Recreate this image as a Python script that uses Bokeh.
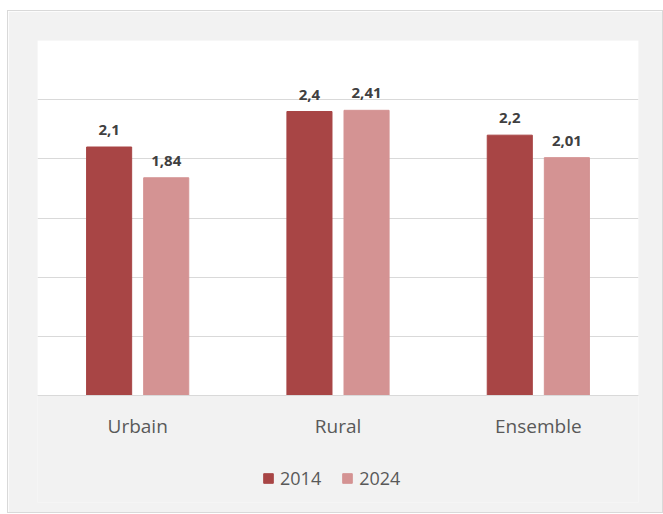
from bokeh.plotting import figure
from bokeh.models import (ColumnDataSource, FactorRange, Legend, LegendItem, Range1d,
                          BoxAnnotation)
from bokeh.transform import dodge
from bokeh.core.properties import value
from bokeh.embed import file_html
from bokeh.resources import INLINE

categories = ["Urbain", "Rural", "Ensemble"]
values_2014 = [2.1, 2.4, 2.2]
values_2024 = [1.84, 2.41, 2.01]
labels_2014 = ["2,1", "2,4", "2,2"]
labels_2024 = ["1,84", "2,41", "2,01"]
series_names = ["2014", "2024"]

src = ColumnDataSource(dict(cat=categories, v2014=values_2014, v2024=values_2024,
                            l2014=labels_2014, l2024=labels_2024))

C14 = "#a84545"
C24 = "#d49393"
BG = "#f2f2f2"
GRID = "#d9d9d9"

Y_MAX = 3
PX_PER_UNIT = 355 / Y_MAX
FRAME_H = 462
y_min = -(FRAME_H - 355) / PX_PER_UNIT

p = figure(x_range=FactorRange(*categories, range_padding=0), y_range=Range1d(y_min, Y_MAX),
           frame_width=601, frame_height=FRAME_H, output_backend="svg", toolbar_location=None,
           min_border_left=29, min_border_right=24, min_border_top=29, min_border_bottom=10)
p.margin = (11, 0, 0, 8)
p.styles = {"box-shadow": "0 0 0 1px #d9d9d9"}
p.background_fill_color = BG
p.border_fill_color = BG
p.outline_line_color = None

plot_area = BoxAnnotation(bottom=0, top=Y_MAX, fill_color="white", fill_alpha=1,
                          line_color=None, level="image")
p.add_layout(plot_area)

p.yaxis.visible = False
p.ygrid.grid_line_color = GRID
p.ygrid.grid_line_width = 1
p.ygrid.ticker = [0, 0.5, 1, 1.5, 2, 2.5, 3]
p.xgrid.grid_line_color = None

p.xaxis.fixed_location = 0
p.xaxis.axis_line_color = GRID
p.xaxis.axis_line_width = 1
p.xaxis.major_tick_line_color = None
p.xaxis.minor_tick_line_color = None
p.xaxis.major_label_text_font = "Open Sans"
p.xaxis.major_label_text_font_size = "19px"
p.xaxis.major_label_text_color = "#595959"
p.xaxis.major_label_standoff = 11

off = 0.1425
w = 0.225
r1 = p.vbar(x=dodge("cat", -off, range=p.x_range), top="v2014", width=w, source=src,
            fill_color=C14, line_color=C14)
r2 = p.vbar(x=dodge("cat", off, range=p.x_range), top="v2024", width=w, source=src,
            fill_color=C24, line_color=C24)

for col, lab, o in (("v2014", "l2014", -off), ("v2024", "l2024", off)):
    p.text(x=dodge("cat", o, range=p.x_range), y=col, text=lab, source=src,
           text_font=value("Open Sans"), text_font_style="bold", text_font_size="15px",
           text_color="#404040", text_align="center", text_baseline="bottom", y_offset=-12)

legend = Legend(items=[LegendItem(label=series_names[0], renderers=[r1]),
                       LegendItem(label=series_names[1], renderers=[r2])],
                orientation="horizontal", location=(225, 12),
                background_fill_alpha=0, border_line_color=None,
                label_text_font="Open Sans", label_text_font_size="18px",
                label_text_color="#595959", glyph_width=12, glyph_height=12,
                spacing=20, label_standoff=6, margin=0, padding=0)
p.add_layout(legend, "center")

open("out.html", "w").write(file_html(p, INLINE))
